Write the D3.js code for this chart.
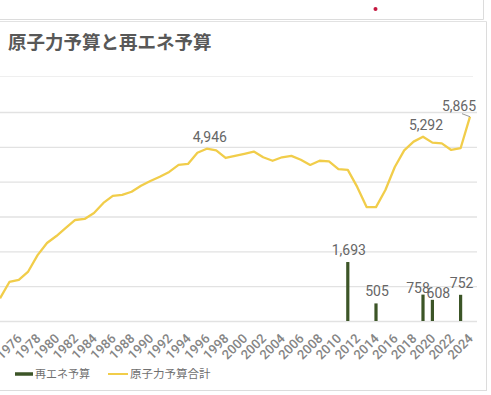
<!DOCTYPE html>
<html>
<head>
<meta charset="utf-8">
<script src="https://cdn.jsdelivr.net/npm/d3@7"></script>
<style>
  html, body { margin: 0; padding: 0; background: #fff; }
  svg { display: block; }
</style>
</head>
<body>
<svg id="chart" width="491" height="395"></svg>
<script>
// ---- data ----
const years = [1974,1975,1976,1977,1978,1979,1980,1981,1982,1983,1984,1985,1986,1987,1988,1989,
  1990,1991,1992,1993,1994,1995,1996,1997,1998,1999,2000,2001,2002,2003,2004,2005,2006,2007,2008,2009,
  2010,2011,2012,2013,2014,2015,2016,2017,2018,2019,2020,2021,2022,2023,2024];
const nuclearBudget = [650,1120,1180,1420,1890,2240,2440,2670,2900,2930,3100,3390,3590,3620,3710,3880,
  4020,4140,4280,4480,4510,4830,4946,4900,4680,4740,4800,4865,4700,4600,4700,4740,4630,4480,4600,4580,
  4360,4340,3850,3270,3270,3760,4420,4900,5150,5292,5120,5100,4910,4960,5865];
const renewYears = [2011, 2014, 2019, 2020, 2023];
const renewBudget = [1693, 505, 758, 608, 752];
const tickYears = [1976,1978,1980,1982,1984,1986,1988,1990,1992,1994,1996,1998,2000,2002,2004,2006,
  2008,2010,2012,2014,2016,2018,2020,2022,2024];
const yTicks = [0,1000,2000,3000,4000,5000,6000];
const labeledNuclear = [1996, 2019, 2024];
const title = "原子力予算と再エネ予算";
const legendNames = ["再エネ予算", "原子力予算合計"];

// ---- drawing ----
const svg = d3.select("#chart");
const lineColor = "#f1cd4a", barColor = "#3c5527", textGray = "#666";
const numFont = "Roboto, 'Liberation Sans', Arial, sans-serif";
const jpFont = "'Noto Sans CJK JP', 'Noto Sans', sans-serif";

// card frames
svg.append("line").attr("x1",0).attr("x2",483.5).attr("y1",19.5).attr("y2",19.5).attr("stroke","#dcdcdc");
svg.append("line").attr("x1",483.5).attr("x2",483.5).attr("y1",0).attr("y2",19.5).attr("stroke","#dcdcdc");
svg.append("circle").attr("cx",375.5).attr("cy",9).attr("r",2).attr("fill","#c4173f");
svg.append("line").attr("x1",0).attr("x2",486.5).attr("y1",21.5).attr("y2",21.5).attr("stroke","#e2e2e2");
svg.append("line").attr("x1",486.5).attr("x2",486.5).attr("y1",21.5).attr("y2",391).attr("stroke","#dcdcdc");
svg.append("line").attr("x1",0).attr("x2",486.5).attr("y1",390.5).attr("y2",390.5).attr("stroke","#dcdcdc");
svg.append("line").attr("x1",0).attr("x2",473).attr("y1",76.5).attr("y2",76.5).attr("stroke","#efefef");

svg.append("text").attr("x",8).attr("y",49).text(title)
  .attr("font-family", jpFont).attr("font-size",18.5).attr("font-weight","bold").attr("fill","#585858");

const x = d3.scaleLinear().domain([1974, 2024]).range([0, 470]);
const y = d3.scaleLinear().domain([0, 6000]).range([321, 112]);

// grid via axis
const gridRight = 477;
const yAxis = d3.axisLeft(y).tickValues(yTicks).tickSize(-gridRight).tickFormat("");
const gy = svg.append("g").call(yAxis);
gy.select(".domain").remove();
gy.selectAll(".tick line").attr("stroke","#e2e2e2").attr("stroke-width",1.3);

// x axis labels
const xAxis = d3.axisBottom(x).tickValues(tickYears).tickSize(0).tickFormat(d3.format("d"));
const gx = svg.append("g").attr("transform","translate(0,321)").call(xAxis);
gx.select(".domain").remove();
gx.selectAll(".tick text")
  .attr("font-family", numFont).attr("font-size",13).attr("font-weight",500).attr("fill","#858585")
  .attr("text-anchor","end")
  .attr("transform","translate(-2,13) rotate(-45)")
  .attr("dy","0.35em").attr("dx","0");

// bars
const barData = renewYears.map((yr,i)=>({yr, v: renewBudget[i]}));
svg.append("g").selectAll("rect").data(barData).join("rect")
  .attr("x", d => x(d.yr) - 1.6).attr("width", 3.2)
  .attr("y", d => y(d.v)).attr("height", d => y(0) - y(d.v))
  .attr("fill", barColor);

// bar labels with simple adjacency nudging
const fmt = d3.format(",");
svg.append("g").selectAll("text").data(barData).join("text")
  .attr("x", (d,i) => {
    const prevAdj = i > 0 && d.yr - barData[i-1].yr === 1;
    const nextAdj = i < barData.length-1 && barData[i+1].yr - d.yr === 1;
    return x(d.yr) + (nextAdj ? -5 : prevAdj ? 6 : 1);
  })
  .attr("y", (d,i) => {
    const adj = (i > 0 && d.yr - barData[i-1].yr === 1) || (i < barData.length-1 && barData[i+1].yr - d.yr === 1);
    return y(d.v) - (adj ? 1.5 : 7);
  })
  .attr("text-anchor","middle")
  .attr("font-family", numFont).attr("font-size",14).attr("fill",textGray)
  .text(d => fmt(d.v));

// line
const lineData = years.map((yr,i)=>({yr, v: nuclearBudget[i]}));
svg.append("path").datum(lineData)
  .attr("d", d3.line().x(d => x(d.yr)).y(d => y(d.v)))
  .attr("fill","none").attr("stroke",lineColor).attr("stroke-width",2.3)
  .attr("stroke-linejoin","round");

// line labels
lineData.filter(d => labeledNuclear.includes(d.yr)).forEach(d => {
  const last = d.yr === years[years.length-1];
  const lx = x(d.yr) + (last ? -11 : 3);
  const ly = y(d.v) - (last ? 6 : 7);
  if (last) {
    svg.append("line").attr("x1", x(d.yr) - 8).attr("y1", y(d.v) - 3)
      .attr("x2", x(d.yr)).attr("y2", y(d.v)).attr("stroke","#999").attr("stroke-width",1);
  }
  svg.append("text").attr("x", lx).attr("y", ly).attr("text-anchor","middle")
    .attr("font-family", numFont).attr("font-size",14).attr("fill",textGray)
    .text(fmt(d.v));
});

// legend
const lg = svg.append("g");
lg.append("line").attr("x1",15).attr("x2",33).attr("y1",374).attr("y2",374)
  .attr("stroke",barColor).attr("stroke-width",3.5);
lg.append("text").attr("x",35).attr("y",378).text(legendNames[0])
  .attr("font-family", jpFont).attr("font-size",11).attr("fill","#707070");
lg.append("line").attr("x1",108).attr("x2",128).attr("y1",374).attr("y2",374)
  .attr("stroke",lineColor).attr("stroke-width",2);
lg.append("text").attr("x",130).attr("y",378).text(legendNames[1])
  .attr("font-family", jpFont).attr("font-size",11.5).attr("fill","#707070");
</script>
</body>
</html>
